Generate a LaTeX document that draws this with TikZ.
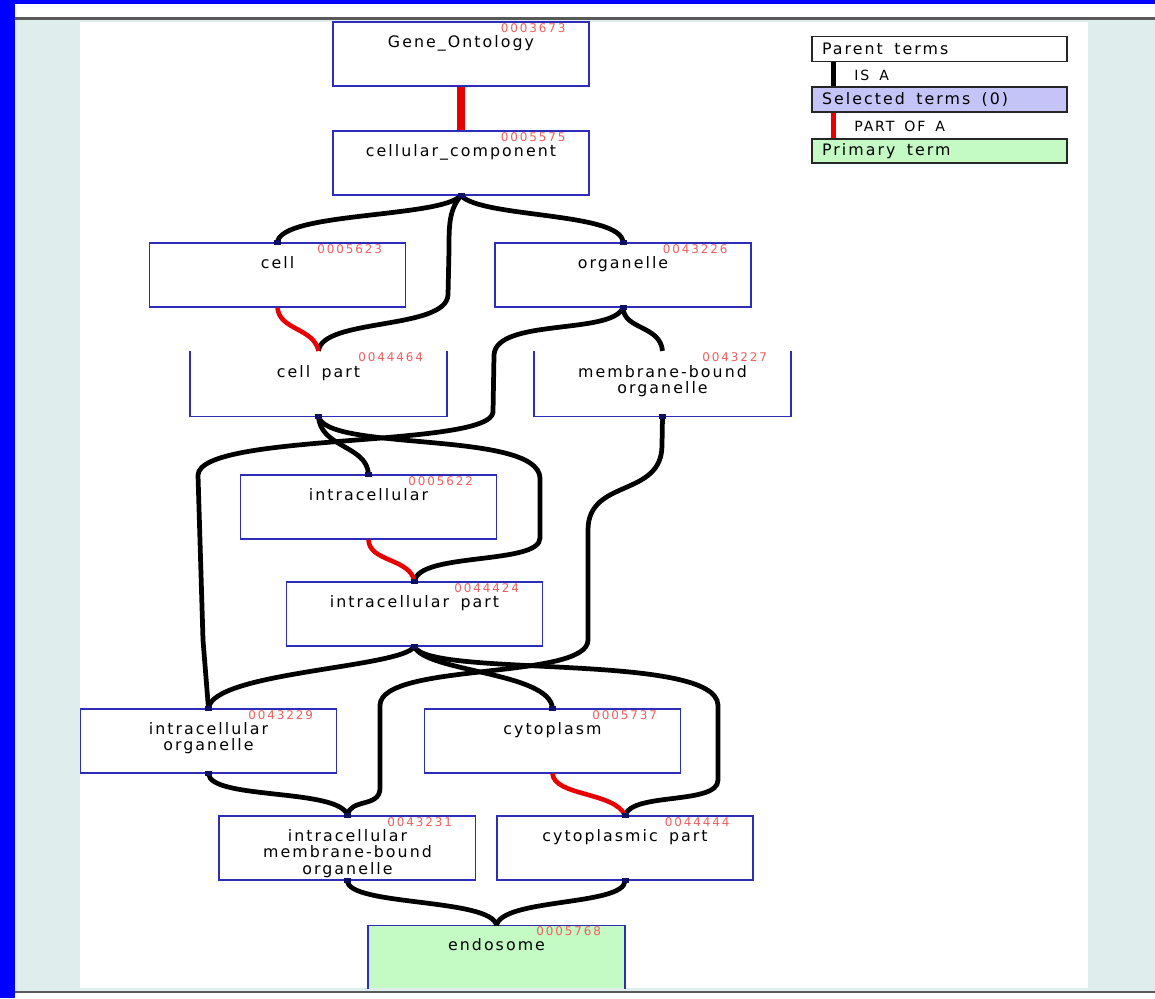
\documentclass[tikz,border=0pt]{standalone}
\usepackage{fontspec}
\setmainfont{DejaVu Sans}
\newfontfamily\termfont[LetterSpace=13, WordSpace=1.6]{DejaVu Sans}
\newfontfamily\idfont[LetterSpace=16]{DejaVu Sans}
\usepackage{tikz}
\tikzset{>=latex}
\definecolor{frameblue}{RGB}{0,0,255}
\definecolor{pagebg}{RGB}{223,237,237}
\definecolor{termline}{RGB}{45,45,185}
\definecolor{termid}{RGB}{240,95,95}
\definecolor{partred}{RGB}{232,0,0}
\definecolor{selectedfill}{RGB}{196,196,248}
\definecolor{primaryfill}{RGB}{196,250,196}
\definecolor{anchornavy}{RGB}{15,15,95}
\newcommand{\termtext}[2]{\parbox[t][1.23cm][t]{4.9cm}{\raggedleft{\idfont\fontsize{6.8}{7}\selectfont\color{termid}#2}\hspace*{0.36cm}\par\vspace{-0.5pt}\centering\termfont\fontsize{9}{9.3}\selectfont#1}}
\tikzset{
  term/.style={draw=termline, line width=0.7pt, fill=white, minimum width=5.12cm, minimum height=1.28cm, inner sep=0pt},
  termside/.style={draw=termline, line width=0.7pt},
  isa/.style={line width=2.7pt, black},
  partof/.style={line width=2.6pt, partred},
  anchorsq/.style={fill=anchornavy},
  legendbox/.style={draw=black!85, line width=0.8pt, minimum width=5.1cm, minimum height=0.5cm, text width=4.7cm, align=left, inner sep=0pt, font=\termfont\fontsize{9}{10}\selectfont, execute at begin node={\spaceskip=0pt}},
  legendtext/.style={anchor=west, inner sep=0pt, font=\termfont\fontsize{8}{9}\selectfont}
}

\begin{document}
\begin{tikzpicture}[x=0.02cm, y=-0.02cm]
\useasboundingbox (0,0) rectangle (1155,998);
\fill[pagebg] (0,0) rectangle (1155,998);
\fill[white] (15,4) rectangle (1155,17);
\fill[black!65] (15,17) rectangle (1155,19.5);
\fill[white] (80,22) rectangle (1088,988);
\fill[black!65] (15,990.5) rectangle (1155,993);
\fill[white] (15,993) rectangle (1155,998);
\fill[frameblue] (0,0) rectangle (1155,4);
\fill[frameblue] (0,0) rectangle (15,998);

\node[term] (go) at (461,54) {\termtext{Gene\_Ontology}{0003673}};
\node[term] (cc) at (461,163) {\termtext{cellular\_component}{0005575}};
\node[term] (cell) at (277.5,275) {\termtext{cell}{0005623}};
\node[term] (org) at (623,275) {\termtext{organelle}{0043226}};
\node[term, draw=none] (cp) at (318.5,383.5) {\termtext{cell part}{0044464}};
\node[term, draw=none] (mbo) at (662.5,383.5) {\termtext{membrane-bound\\organelle}{0043227}};
\node[term] (ic) at (368.5,507) {\termtext{intracellular}{0005622}};
\node[term] (icp) at (414.5,614) {\termtext{intracellular part}{0044424}};
\node[term] (ico) at (208.5,741) {\termtext{intracellular\\organelle}{0043229}};
\node[term] (cyt) at (552.5,741) {\termtext{cytoplasm}{0005737}};
\node[term] (imbo) at (347.5,848) {\termtext{intracellular\\membrane-bound\\organelle}{0043231}};
\node[term] (cytp) at (625,848) {\termtext{cytoplasmic part}{0044444}};
\node[term, draw=none, fill=primaryfill, minimum height=1.24cm] (endo) at (496.5,957) {\termtext{endosome}{0005768}};

\draw[termside] (cp.north west) -- (cp.south west) -- (cp.south east) -- (cp.north east);
\draw[termside] (mbo.north west) -- (mbo.south west) -- (mbo.south east) -- (mbo.north east);
\draw[termside] (endo.south west) -- (endo.north west) -- (endo.north east) -- (endo.south east);
\draw[termside, line width=1.6pt] (imbo.north west) -- (imbo.south west);

\draw[partof, line width=4pt] (go.south) -- (cc.north);
\draw[isa] (cc.south) .. controls (440,218) and (280,212) .. (cell.north);
\draw[isa] (cc.south) .. controls (482,218) and (622,212) .. (org.north);
\draw[isa] (cc.south) .. controls (449,210) and (449,225) .. (449,250) -- (448,295) .. controls (446,330) and (322,318) .. (cp.north);
\draw[partof] (cell.south) .. controls (279,330) and (314,328) .. (cp.north);
\draw[isa] (org.south) .. controls (624,330) and (660,325) .. (mbo.north);
\draw[isa] (org.south) .. controls (612,335) and (496,318) .. (494,355) -- (493,412) .. controls (491,448) and (200,432) .. (198,475) -- (203,640) -- (207,690) -- (ico.north);
\draw[isa] (cp.south) .. controls (320,448) and (367,445) .. (ic.north);
\draw[isa] (cp.south) .. controls (325,452) and (538,430) .. (540,478) -- (540,538) .. controls (540,565) and (418,552) .. (icp.north);
\draw[partof] (ic.south) .. controls (369,562) and (410,558) .. (icp.north);
\draw[isa] (mbo.south) -- (662,445) .. controls (662,498) and (588,478) .. (588,530) -- (588,640) .. controls (588,680) and (382,662) .. (380,705) -- (380,788) .. controls (380,808) and (350,798) .. (imbo.north);
\draw[isa] (icp.south) .. controls (400,668) and (212,672) .. (ico.north);
\draw[isa] (icp.south) .. controls (425,672) and (550,672) .. (cyt.north);
\draw[isa] (icp.south) .. controls (428,678) and (716,652) .. (718,705) -- (718,780) .. controls (718,805) and (632,792) .. (cytp.north);
\draw[isa] (ico.south) .. controls (210,800) and (340,788) .. (imbo.north);
\draw[partof] (cyt.south) .. controls (554,796) and (615,792) .. (cytp.north);
\draw[isa] (imbo.south) .. controls (347,906) and (492,898) .. (endo.north);
\draw[isa] (cytp.south) .. controls (625,906) and (502,898) .. (endo.north);

\foreach \a in {cc.south, cell.north, org.north, org.south, cp.south, mbo.south, ic.north, icp.north, icp.south, ico.north, ico.south, cyt.north, cytp.north, cytp.south, imbo.north, imbo.south}
  \fill[anchorsq] (\a) ++(-3.5,-2.5) rectangle ++(7,5);

\node[legendbox, fill=white] (parent) at (939.5,49) {Parent terms};
\node[legendbox, fill=selectedfill] (selected) at (939.5,99.5) {Selected terms (0)};
\node[legendbox, fill=primaryfill, minimum height=0.48cm] (primary) at (939.5,151) {Primary term};
\draw[isa, line width=3pt] ([xshift=0.44cm]parent.south west) -- ([xshift=0.44cm]selected.north west);
\draw[partof, line width=3pt] ([xshift=0.44cm]selected.south west) -- ([xshift=0.44cm]primary.north west);
\node[legendtext] (isalabel) at (854,75) {IS A};
\node[legendtext] (partlabel) at (854,126) {PART OF A};
\end{tikzpicture}
\end{document}
